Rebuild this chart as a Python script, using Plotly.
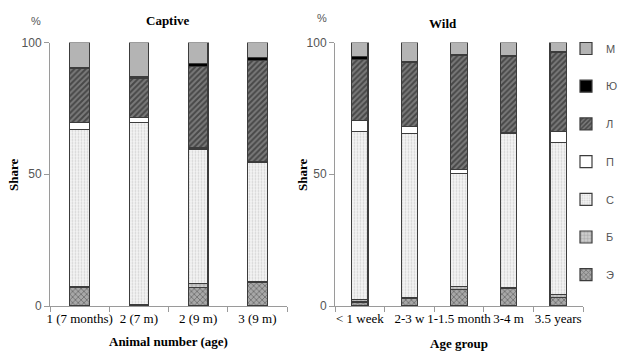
import plotly.graph_objects as go

captive_cats = ["1 (7 months)", "2 (7 m)", "2 (9 m)", "3 (9 m)"]
wild_cats = ["< 1 week", "2-3 w", "1-1.5 month", "3-4 m", "3.5 years"]
components = ["Э", "Б", "С", "П", "Л", "Ю", "М"]

captive_E = [7, 0, 7, 9]
captive_B = [0.5, 0.7, 1.5, 0.4]
captive_S = [59.5, 68.9, 51, 45]
captive_P = [2.5, 1.9, 0.5, 0.3]
captive_L = [20.5, 15, 31, 38.5]
captive_Yu = [0.4, 0.5, 1, 1]
captive_M = [9.6, 13, 8, 5.8]

wild_E = [1.5, 2.9, 6.3, 6.7, 3.3]
wild_B = [1, 0.3, 1, 0.3, 1.2]
wild_S = [63.7, 62.4, 43, 58.4, 57.6]
wild_P = [4.2, 2.6, 1.5, 0.3, 4.2]
wild_L = [23.3, 24.3, 43.4, 29, 30]
wild_Yu = [0.9, 0.3, 0.3, 0.3, 0.3]
wild_M = [5.4, 7.2, 4.5, 5, 3.4]

captive_vals = [captive_E, captive_B, captive_S, captive_P, captive_L, captive_Yu, captive_M]
wild_vals = [wild_E, wild_B, wild_S, wild_P, wild_L, wild_Yu, wild_M]

styles = {
    "Э": dict(color="#a8a8a8", pattern=dict(shape="x", fgcolor="#3a3a3a", size=4, solidity=0.4)),
    "Б": dict(color="#cfcfcf", pattern=dict(shape="+", fgcolor="#666666", size=4, solidity=0.3)),
    "С": dict(color="#f4f4f4", pattern=dict(shape=".", fgcolor="#b0b0b0", size=3, solidity=0.3)),
    "П": dict(color="#ffffff"),
    "Л": dict(color="#7a7a7a", pattern=dict(shape="/", fgcolor="#151515", size=4, solidity=0.5)),
    "Ю": dict(color="#000000"),
    "М": dict(color="#b4b4b4"),
}

fig = go.Figure()
n = len(components)
for i, (name, vals) in enumerate(zip(components, captive_vals)):
    m = dict(styles[name])
    m["line"] = dict(color="#3c3c3c", width=1.2)
    fig.add_trace(go.Bar(x=captive_cats, y=vals, name=name, marker=m, width=0.33,
                         xaxis="x", yaxis="y", showlegend=False, legendgroup=name))
for i, (name, vals) in enumerate(zip(components, wild_vals)):
    m = dict(styles[name])
    m["line"] = dict(color="#3c3c3c", width=1.2)
    fig.add_trace(go.Bar(x=wild_cats, y=vals, name=name, marker=m, width=0.33,
                         xaxis="x2", yaxis="y2", showlegend=True, legendgroup=name,
                         legendrank=n - i))

W, H = 624, 359
ydom = [(H - 306) / H, (H - 42.5) / H]
xax = dict(showline=True, linecolor="#9a9a9a", linewidth=1, ticks="outside", tickson="boundaries",
           ticklen=5, tickcolor="#9a9a9a", showgrid=False, tickangle=0,
           tickfont=dict(family="Liberation Serif", size=13, color="#000"))
yax = dict(range=[0, 100], tickvals=[0, 50, 100], showline=True, linecolor="#9a9a9a", linewidth=1,
           ticks="outside", ticklen=5, tickcolor="#9a9a9a", showgrid=False, zeroline=False,
           tickfont=dict(family="Liberation Sans", size=12, color="#555"))

fig.update_layout(
    width=W, height=H, margin=dict(l=0, r=0, t=0, b=0, autoexpand=False),
    paper_bgcolor="white", plot_bgcolor="white", barmode="stack",
    xaxis=dict(domain=[50 / W, 287 / W], anchor="y", **xax),
    yaxis=dict(domain=ydom, anchor="x", **yax),
    xaxis2=dict(domain=[335 / W, 583 / W], anchor="y2", **xax),
    yaxis2=dict(domain=ydom, anchor="x2", **yax),
    legend=dict(x=566 / W, y=(H - 34) / H, xanchor="left", yanchor="top",
                traceorder="grouped", tracegroupgap=18.7, itemwidth=30,
                font=dict(family="Liberation Sans", size=11, color="#555"),
                bgcolor="rgba(0,0,0,0)"),
    showlegend=True,
)

serif_b = dict(family="Liberation Serif", size=13, color="#000")
ann = [
    dict(x=168, y=20, text="<b>Captive</b>", font=serif_b),
    dict(x=443, y=24, text="<b>Wild</b>", font=serif_b),
    dict(x=36, y=21, text="%", font=dict(family="Liberation Sans", size=11, color="#555")),
    dict(x=322, y=18, text="%", font=dict(family="Liberation Sans", size=11, color="#555")),
    dict(x=13, y=175, text="<b>Share</b>", font=serif_b, textangle=-90),
    dict(x=302, y=175, text="<b>Share</b>", font=serif_b, textangle=-90),
    dict(x=168, y=341, text="<b>Animal number (age)</b>", font=serif_b),
    dict(x=459, y=343, text="<b>Age group</b>", font=serif_b),
]
fig.update_layout(annotations=[
    dict(a, xref="paper", yref="paper", x=a["x"] / W, y=1 - a["y"] / H,
         xanchor="center", yanchor="middle", showarrow=False) for a in ann
])

fig.write_html("out.html", config={"displayModeBar": False},
               post_script="document.body.style.margin='0';")
